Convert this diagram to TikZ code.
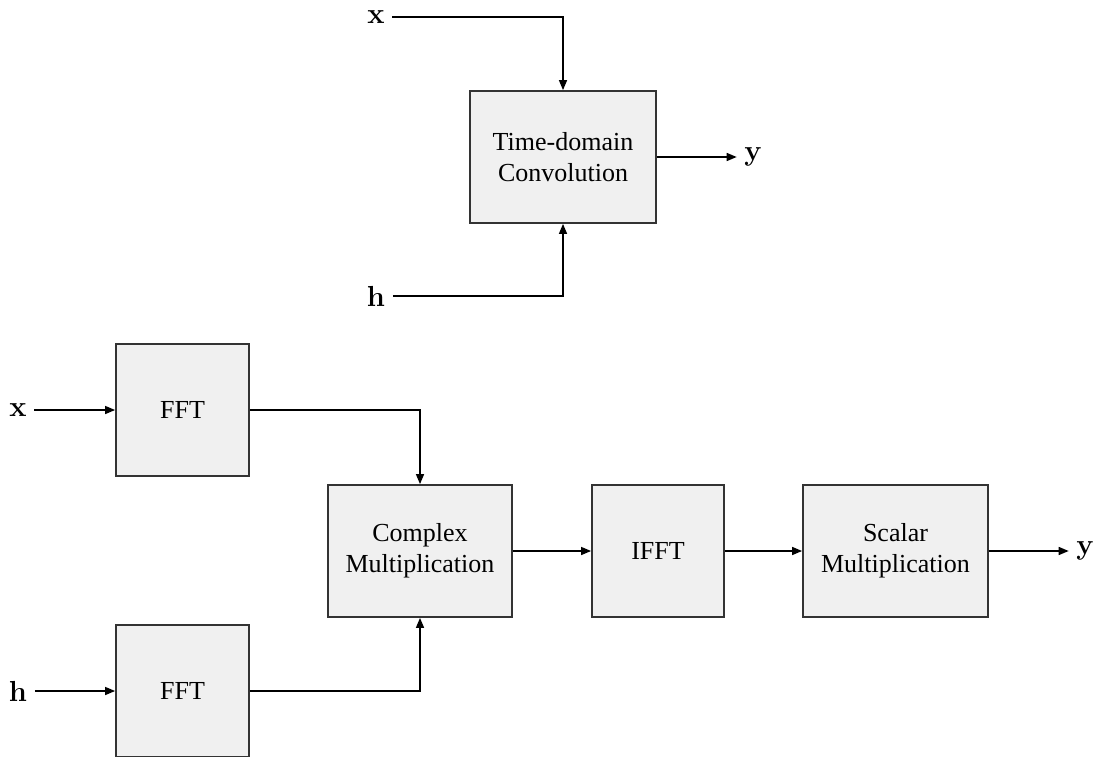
\documentclass[tikz,border=0pt]{standalone}
\usepackage{fontspec}
\setmainfont{Liberation Serif}
\newfontfamily\lmfont{Latin Modern Roman}
\usetikzlibrary{arrows.meta}
\definecolor{boxfill}{HTML}{F0F0F0}
\definecolor{boxline}{HTML}{333333}
\begin{document}
\begin{tikzpicture}[x=1pt,y=-1pt,->,>={Triangle[length=10pt,width=8pt]},line width=1.4pt,
    block/.style={draw=boxline,fill=boxfill,line width=1.8pt,inner sep=0pt,align=center,
        font=\fontsize{26}{31}\selectfont},
    lbl/.style={inner sep=7pt,font=\lmfont\bfseries\fontsize{29}{35}\selectfont}]
                \useasboundingbox (0,0) rectangle (1097,757);
                % time domain
                \node[block,minimum width=186pt,minimum height=132pt] (tdc) at (563,157){Time-domain\\Convolution};
                \node[lbl] (xT) at (376,17){x};
                \node[lbl] (hT) at (376,296){h};
                \node[lbl] (yT) at (753,157){y};
                \draw (xT.east) -| (tdc.north);
                \draw (hT.east) -| (tdc.south);
                \draw (tdc) -- (yT);
                % frequency domain
                \node[block,minimum width=133pt,minimum height=132pt] (fftx) at (182.5,410){FFT};
                \node[block,minimum width=133pt,minimum height=132pt] (ffth) at (182.5,691){FFT};
                \node[block,minimum width=184pt,minimum height=132pt] (cmul) at (420,551){Complex\\Multiplication};
                \node[block,minimum width=132pt,minimum height=132pt] (ifft) at (658,551){IFFT};
                \node[block,minimum width=185pt,minimum height=132pt] (smul) at (895.5,551){Scalar\\Multiplication};
                \node[lbl] (xB) at (18,410){x};
                \node[lbl] (hB) at (18,691){h};
                \node[lbl] (yB) at (1085,551){y};
                \draw (xB) -- (fftx);
                \draw (hB) -- (ffth);
                \draw (fftx.east) -| (cmul.north);
                \draw (ffth.east) -| (cmul.south);
                \draw (cmul) -- (ifft);
                \draw (ifft) -- (smul);
                \draw (smul) -- (yB);
\end{tikzpicture}
\end{document}
